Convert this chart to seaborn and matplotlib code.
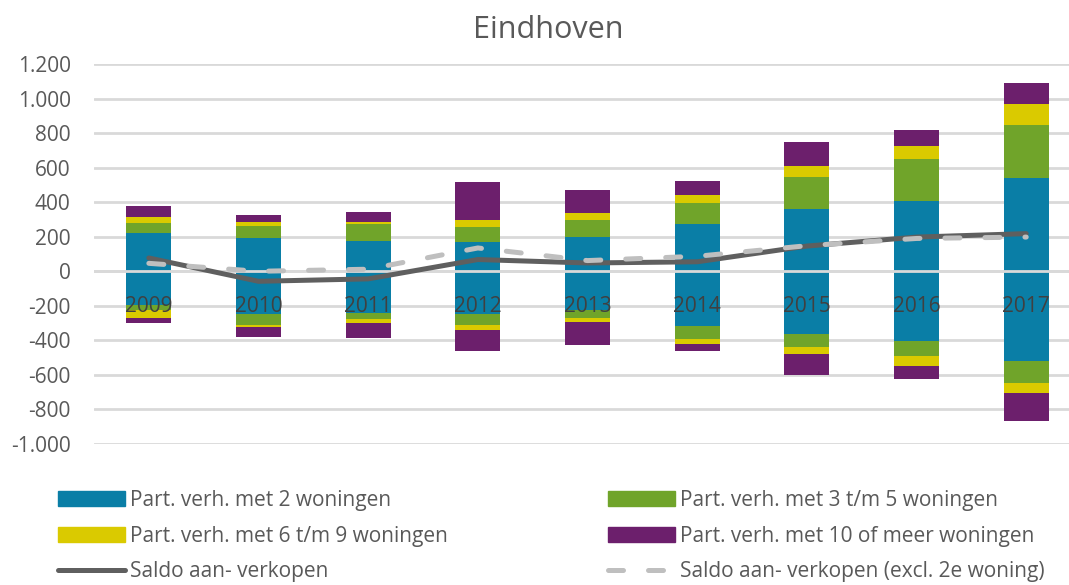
import numpy as np
import seaborn as sns
import matplotlib.pyplot as plt
from matplotlib.patches import Patch
from matplotlib.lines import Line2D
from matplotlib.ticker import FuncFormatter

years = ["2009", "2010", "2011", "2012", "2013", "2014", "2015", "2016", "2017"]

# aankopen (positief) per type verhuurder
pos_2 = [220, 191, 174, 170, 197, 272, 362, 406, 539]
pos_3_5 = [58, 74, 100, 85, 102, 126, 183, 245, 310]
pos_6_9 = [39, 23, 14, 39, 39, 44, 67, 73, 119]
pos_10 = [60, 39, 58, 222, 133, 82, 135, 96, 120]

# verkopen (negatief)
neg_2 = [-195, -247, -242, -247, -222, -315, -364, -402, -520]
neg_3_5 = [-30, -64, -34, -62, -50, -77, -73, -89, -125]
neg_6_9 = [-43, -14, -24, -29, -24, -27, -39, -58, -61]
neg_10 = [-33, -54, -88, -126, -131, -45, -125, -75, -160]

saldo = [77, -58, -44, 68, 48, 55, 146, 198, 218]
saldo_excl = [46, 0, 12, 135, 62, 87, 148, 190, 198]

labels = ["Part. verh. met 2 woningen", "Part. verh. met 3 t/m 5 woningen",
          "Part. verh. met 6 t/m 9 woningen", "Part. verh. met 10 of meer woningen",
          "Saldo aan- verkopen", "Saldo aan- verkopen (excl. 2e woning)"]
colors = ["#0A7EA6", "#70A42A", "#DACA00", "#6C1F6C"]
text_col = "#595959"

sns.set_theme(style="whitegrid")
plt.rcParams["font.family"] = ["Open Sans", "DejaVu Sans"]

fig = plt.figure(figsize=(10.69, 5.85), dpi=100)
ax = fig.add_axes([94 / 1069, 0.241, 1 - 94 / 1069, 0.6496])

# stacked bars: draw cumulative totals from the outer layer inwards
for layers in ([pos_2, pos_3_5, pos_6_9, pos_10], [neg_2, neg_3_5, neg_6_9, neg_10]):
    cum = np.cumsum(np.array(layers), axis=0)
    for i in range(3, -1, -1):
        sns.barplot(x=years, y=cum[i], color=colors[i], saturation=1, width=0.41,
                    linewidth=0, errorbar=None, ax=ax, zorder=1)

ax.axhline(0, color="#D9D9D9", lw=2, zorder=1.5)

xpos = np.arange(len(years))
sns.lineplot(x=xpos, y=saldo, color="#5F5F5F", lw=3.6, ax=ax, zorder=3,
             solid_capstyle="round")
sns.lineplot(x=xpos, y=saldo_excl, color="#BFBFBF", lw=3.6, ax=ax, zorder=3,
             dashes=False, dash_capstyle="round")
ax.lines[-1].set_dashes((3, 5))

ax.set_ylim(-1000, 1200)
ax.set_yticks(range(-1000, 1201, 200))
ax.yaxis.set_major_formatter(FuncFormatter(lambda v, p: f"{v:,.0f}".replace(",", ".")))
ax.set_xlim(-0.5, 8.39)
ax.set_xlabel("")
ax.set_ylabel("")
ax.xaxis.grid(False)
ax.yaxis.grid(True, color="#D9D9D9", lw=2)
for s in ax.spines.values():
    s.set_visible(False)
ax.spines["bottom"].set_position(("data", 0))
ax.xaxis.set_zorder(5)
ax.tick_params(axis="y", length=0, pad=16.8, labelsize=15, labelcolor=text_col)
ax.tick_params(axis="x", length=0, pad=17.5, labelsize=15, labelcolor="#404040")

fig.text(548 / 1069, 1 - 30 / 585, "Eindhoven", ha="center", va="center",
         fontsize=22, color=text_col)

h = [Patch(color=c) for c in colors]
h_line = Line2D([], [], color="#5F5F5F", lw=3.6, solid_capstyle="round")
h_dash = Line2D([], [], color="#BFBFBF", lw=3.6, dashes=(3, 5), dash_capstyle="round")
leg_kw = dict(loc="upper left", frameon=False, borderpad=0, borderaxespad=0,
              handlelength=3.2, handletextpad=0.25, labelspacing=0.7, fontsize=15,
              labelcolor=text_col)
fig.legend([h[0], h[2], h_line], [labels[0], labels[2], labels[4]],
           bbox_to_anchor=(58 / 1069, 1 - 490 / 585), **leg_kw)
fig.legend([h[1], h[3], h_dash], [labels[1], labels[3], labels[5]],
           bbox_to_anchor=(608 / 1069, 1 - 490 / 585), **leg_kw)

fig.savefig("out.png", dpi=100)
